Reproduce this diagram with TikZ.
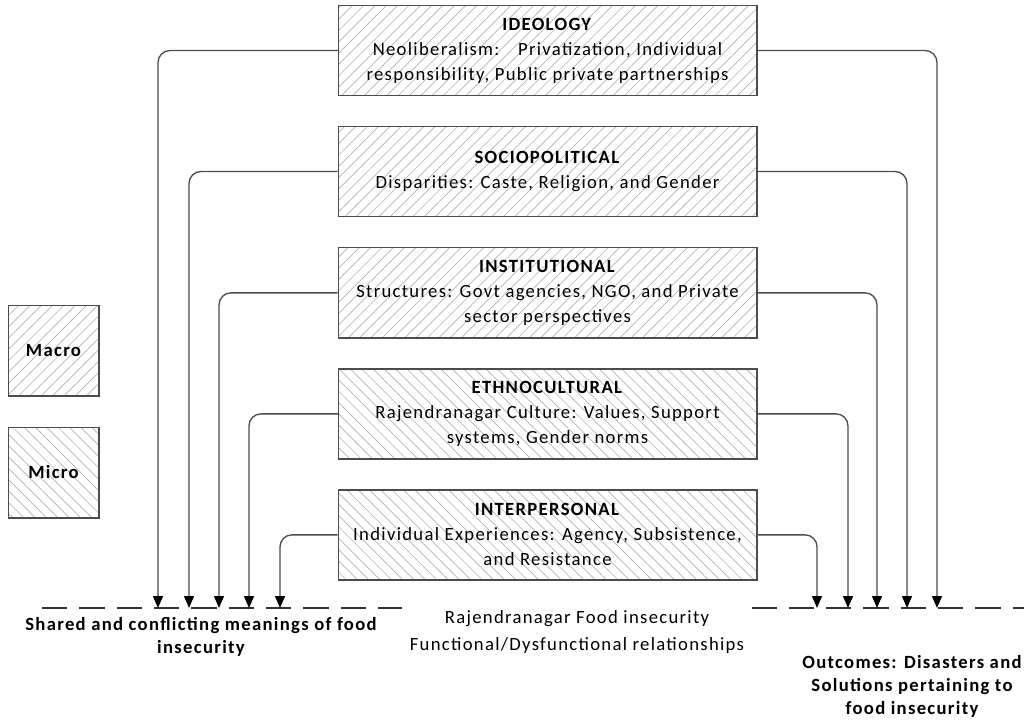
\documentclass[tikz,border=0pt]{standalone}
\usepackage{fontspec}
\setmainfont{Carlito}[LetterSpace=7]
\usetikzlibrary{positioning, arrows.meta, patterns.meta}
\colorlet{drawColor}{black!70}
\colorlet{hatchColor}{black!30}
\tikzstyle{level}=[draw=drawColor, line width=1pt, minimum width=314pt, minimum height=67.5pt, align=center, font=\fontsize{14}{18.75}\selectfont]
\tikzstyle{macro}=[pattern={Lines[angle=45, distance=6pt, line width=0.5pt]}, pattern color=hatchColor]
\tikzstyle{micro}=[pattern={Lines[angle=-45, distance=6pt, line width=0.5pt]}, pattern color=hatchColor]
\tikzstyle{scalekey}=[level, minimum width=68pt, minimum height=68pt, font=\fontsize{14}{18.75}\selectfont\bfseries]
\tikzstyle{arrow}=[-{Triangle[length=9pt, width=7.5pt, color=black]}, line width=1pt, draw=drawColor, rounded corners=9pt]
\tikzstyle{groundline}=[dash pattern=on 19pt off 9pt, line width=1pt, draw=black!80]
\tikzstyle{caption}=[align=center, inner sep=2pt, font=\fontsize{14}{17.25}\selectfont]

\begin{document}
\begin{tikzpicture}[x=0.75pt, y=-0.75pt, node distance=22.5pt]
  \useasboundingbox (0,0) rectangle (1024,720);
  \node (ideology) [level, macro] at (547.5,50.5)
    {\textbf{IDEOLOGY}\\Neoliberalism:\quad Privatization, Individual\\responsibility, Public private partnerships};
  \node (sociopolitical) [level, macro, below=of ideology]
    {\textbf{SOCIOPOLITICAL}\\Disparities: Caste, Religion, and Gender};
  \node (institutional) [level, macro, below=of sociopolitical]
    {\textbf{INSTITUTIONAL}\\Structures: Govt agencies, NGO, and Private\\sector perspectives};
  \node (ethnocultural) [level, micro, below=of institutional]
    {\textbf{ETHNOCULTURAL}\\Rajendranagar Culture: Values, Support\\systems, Gender norms};
  \node (interpersonal) [level, micro, below=of ethnocultural]
    {\textbf{INTERPERSONAL}\\Individual Experiences: Agency, Subsistence,\\and Resistance};
  % legend
  \node (macro) [scalekey, macro] at (53.5,350.5) {Macro};
  \node (micro) [scalekey, micro, below=of macro] {Micro};
  % ends on the dashed line
  \coordinate (gstart) at (42,608);
  \coordinate (gend) at (1024,608);
  \coordinate (l1) at (158,608);
  \coordinate (l2) at (189,608);
  \coordinate (l3) at (219,608);
  \coordinate (l4) at (249,608);
  \coordinate (l5) at (280,608);
  \coordinate (r1) at (937,608);
  \coordinate (r2) at (907,608);
  \coordinate (r3) at (877,608);
  \coordinate (r4) at (848,608);
  \coordinate (r5) at (817,608);
  \draw [groundline] (gstart) -- (gend);
  \draw [arrow] (ideology.west) -| (l1);
  \draw [arrow] (sociopolitical.west) -| (l2);
  \draw [arrow] (institutional.west) -| (l3);
  \draw [arrow] (ethnocultural.west) -| (l4);
  \draw [arrow] (interpersonal.west) -| (l5);
  \draw [arrow] (ideology.east) -| (r1);
  \draw [arrow] (sociopolitical.east) -| (r2);
  \draw [arrow] (institutional.east) -| (r3);
  \draw [arrow] (ethnocultural.east) -| (r4);
  \draw [arrow] (interpersonal.east) -| (r5);
  % captions
  \node (shared) [caption, font=\fontsize{14}{17.25}\selectfont\bfseries] at (201,637)
    {Shared and conflicting meanings of food\\insecurity};
  \node (relations) [caption, fill=white, inner xsep=6pt, inner ysep=7pt, font=\fontsize{14}{20.5}\selectfont] at (577,632)
    {Rajendranagar Food insecurity\\Functional/Dysfunctional relationships};
  \node (outcomes) [caption, font=\fontsize{14}{17.25}\selectfont\bfseries] at (912,686)
    {Outcomes: Disasters and\\Solutions pertaining to\\food insecurity};
\end{tikzpicture}
\end{document}
